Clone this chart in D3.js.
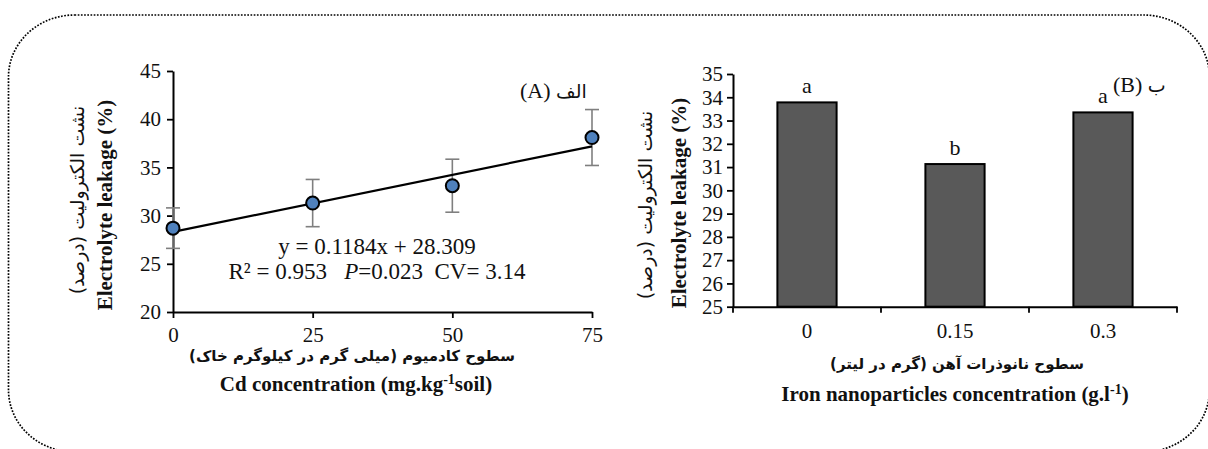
<!DOCTYPE html>
<html>
<head>
<meta charset="utf-8">
<script src="https://cdn.jsdelivr.net/npm/d3@7"></script>
<style>
  html, body { margin: 0; padding: 0; background: #fff; }
  svg { display: block; }
  text { font-family: "Liberation Serif", "Times New Roman", "DejaVu Sans", serif; fill: #111; }
  .ar { font-family: "DejaVu Sans", "Liberation Serif", sans-serif; }
</style>
</head>
<body>
<svg id="chart" width="1208" height="449"></svg>
<script>
// Panel A: electrolyte leakage vs. cadmium level (mean ± error, linear fit)
const cdLevels = [0, 25, 50, 75];
const cdLeakage = [28.7, 31.3, 33.1, 38.1];
const cdError = [2.1, 2.45, 2.75, 2.9];
const fitSlope = 0.1184;
const fitIntercept = 28.309;
const cdTicksX = [0, 25, 50, 75];
const cdTicksY = [20, 25, 30, 35, 40, 45];

// Panel B: electrolyte leakage vs. iron nanoparticle level
const feLevels = ["0", "0.15", "0.3"];
const feLeakage = [33.78, 31.13, 33.35];
const feGroups = ["a", "b", "a"];
const feTicksY = [25, 26, 27, 28, 29, 30, 31, 32, 33, 34, 35];

const svg = d3.select("#chart");

// dotted rounded frame around both panels
svg.append("rect")
  .attr("x", 8.5).attr("y", 15)
  .attr("width", 1201).attr("height", 437)
  .attr("rx", 66).attr("ry", 62)
  .attr("fill", "none").attr("stroke", "#000")
  .attr("stroke-width", 1.7).attr("stroke-dasharray", "1.7 1.5");

function styleAxis(g) {
  g.select(".domain").attr("stroke", "#000").attr("stroke-width", 2);
  g.selectAll(".tick line").attr("stroke", "#000").attr("stroke-width", 1.8);
  g.selectAll(".tick text").attr("font-size", 21).attr("fill", "#111")
    .style("font-family", "'Liberation Serif', serif");
}

// ---------- Panel A ----------
const xA = d3.scaleLinear().domain([0, 75]).range([173, 592]);
const yA = d3.scaleLinear().domain([20, 45]).range([312, 71]);

svg.append("g").attr("transform", `translate(0,${yA(20)})`)
  .call(d3.axisBottom(xA).tickValues(cdTicksX).tickSize(6).tickSizeOuter(0).tickPadding(9))
  .call(styleAxis);
svg.append("g").attr("transform", `translate(${xA(0)},0)`)
  .call(d3.axisLeft(yA).tickValues(cdTicksY).tickSize(6).tickSizeOuter(0).tickPadding(6))
  .call(styleAxis);

// error bars
const capW = 7;
const eb = svg.append("g").attr("stroke", "#7f7f7f").attr("stroke-width", 1.6);
cdLevels.forEach((c, i) => {
  const x = xA(c), y1 = yA(cdLeakage[i] + cdError[i]), y0 = yA(cdLeakage[i] - cdError[i]);
  eb.append("line").attr("x1", x).attr("x2", x).attr("y1", y1).attr("y2", y0);
  eb.append("line").attr("x1", x - capW).attr("x2", x + capW).attr("y1", y1).attr("y2", y1);
  eb.append("line").attr("x1", x - capW).attr("x2", x + capW).attr("y1", y0).attr("y2", y0);
});

// linear fit
svg.append("line")
  .attr("x1", xA(0)).attr("y1", yA(fitIntercept))
  .attr("x2", xA(75)).attr("y2", yA(fitIntercept + fitSlope * 75))
  .attr("stroke", "#000").attr("stroke-width", 2.2);

// means
svg.append("g").selectAll("circle").data(cdLevels).join("circle")
  .attr("cx", d => xA(d)).attr("cy", (d, i) => yA(cdLeakage[i]))
  .attr("r", 6.5).attr("fill", "#4f81bd").attr("stroke", "#000").attr("stroke-width", 2);

// equation block
svg.append("text").attr("x", 377).attr("y", 254).attr("text-anchor", "middle")
  .attr("font-size", 23).text(`y = ${fitSlope}x + ${fitIntercept}`);
const stats = svg.append("text").attr("x", 377).attr("y", 279).attr("text-anchor", "middle")
  .attr("font-size", 23).attr("xml:space", "preserve");
stats.append("tspan").text("R² = 0.953   ");
stats.append("tspan").attr("font-style", "italic").text("P");
stats.append("tspan").text("=0.023  CV= 3.14");

// panel tag
const tagA = svg.append("text").attr("x", 520).attr("y", 98).attr("font-size", 22);
tagA.append("tspan").text("(A) ");
tagA.append("tspan").attr("class", "ar").attr("font-size", 19).text("الف");

// axis titles
svg.append("text").attr("transform", `translate(112,205) rotate(-90)`)
  .attr("text-anchor", "middle").attr("font-size", 21).attr("font-weight", "bold")
  .text("Electrolyte leakage (%)");
svg.append("text").attr("class", "ar").attr("transform", `translate(84,200) rotate(-90)`)
  .attr("text-anchor", "middle").attr("font-size", 19).attr("direction", "rtl")
  .text("نشت الکترولیت (درصد)");
svg.append("text").attr("class", "ar").attr("x", 352).attr("y", 361)
  .attr("text-anchor", "middle").attr("font-size", 15).attr("font-weight", "bold").attr("direction", "rtl")
  .text("سطوح کادمیوم (میلی گرم در کیلوگرم خاک)");
const xtA = svg.append("text").attr("x", 356).attr("y", 391).attr("text-anchor", "middle")
  .attr("font-size", 21).attr("font-weight", "bold");
xtA.append("tspan").text("Cd concentration (mg.kg");
xtA.append("tspan").attr("font-size", 14).attr("dy", -7).text("-1");
xtA.append("tspan").attr("dy", 7).text("soil)");

// ---------- Panel B ----------
const xB = d3.scaleBand().domain(feLevels).range([733, 1177]).paddingInner(0.6).paddingOuter(0.3);
const yB = d3.scaleLinear().domain([25, 35]).range([306.7, 74]);

// category boundary ticks
const bounds = d3.range(feLevels.length + 1).map(i => xB.range()[0] + i * xB.step());
svg.append("g").selectAll("line").data(bounds).join("line")
  .attr("x1", d => d).attr("x2", d => d).attr("y1", yB(25)).attr("y2", yB(25) + 6)
  .attr("stroke", "#000").attr("stroke-width", 1.8);

svg.append("g").attr("transform", `translate(0,${yB(25)})`)
  .call(d3.axisBottom(xB).tickSize(0).tickSizeOuter(0).tickPadding(16))
  .call(styleAxis);
svg.append("g").attr("transform", `translate(${xB.range()[0]},0)`)
  .call(d3.axisLeft(yB).tickValues(feTicksY).tickSize(6).tickSizeOuter(0).tickPadding(4))
  .call(styleAxis);

svg.append("g").selectAll("rect").data(feLevels).join("rect")
  .attr("x", d => xB(d)).attr("width", xB.bandwidth())
  .attr("y", (d, i) => yB(feLeakage[i])).attr("height", (d, i) => yB(25) - yB(feLeakage[i]))
  .attr("fill", "#595959").attr("stroke", "#000").attr("stroke-width", 2);

svg.append("g").selectAll("text").data(feLevels).join("text")
  .attr("x", d => xB(d) + xB.bandwidth() / 2).attr("y", (d, i) => yB(feLeakage[i]) - 9)
  .attr("text-anchor", "middle").attr("font-size", 22)
  .text((d, i) => feGroups[i]);

const tagB = svg.append("text").attr("x", 1113).attr("y", 92).attr("font-size", 22);
tagB.append("tspan").text("(B) ");
tagB.append("tspan").attr("class", "ar").attr("font-size", 19).text("ب");

svg.append("text").attr("transform", `translate(686,203) rotate(-90)`)
  .attr("text-anchor", "middle").attr("font-size", 21).attr("font-weight", "bold")
  .text("Electrolyte leakage (%)");
svg.append("text").attr("class", "ar").attr("transform", `translate(652,205) rotate(-90)`)
  .attr("text-anchor", "middle").attr("font-size", 19).attr("direction", "rtl")
  .text("نشت الکترولیت (درصد)");
svg.append("text").attr("class", "ar").attr("x", 957).attr("y", 369)
  .attr("text-anchor", "middle").attr("font-size", 15).attr("font-weight", "bold").attr("direction", "rtl")
  .text("سطوح نانوذرات آهن (گرم در لیتر)");
const xtB = svg.append("text").attr("x", 955).attr("y", 401).attr("text-anchor", "middle")
  .attr("font-size", 21).attr("font-weight", "bold");
xtB.append("tspan").text("Iron nanoparticles concentration (g.l");
xtB.append("tspan").attr("font-size", 14).attr("dy", -7).text("-1");
xtB.append("tspan").attr("dy", 7).text(")");
</script>
</body>
</html>
